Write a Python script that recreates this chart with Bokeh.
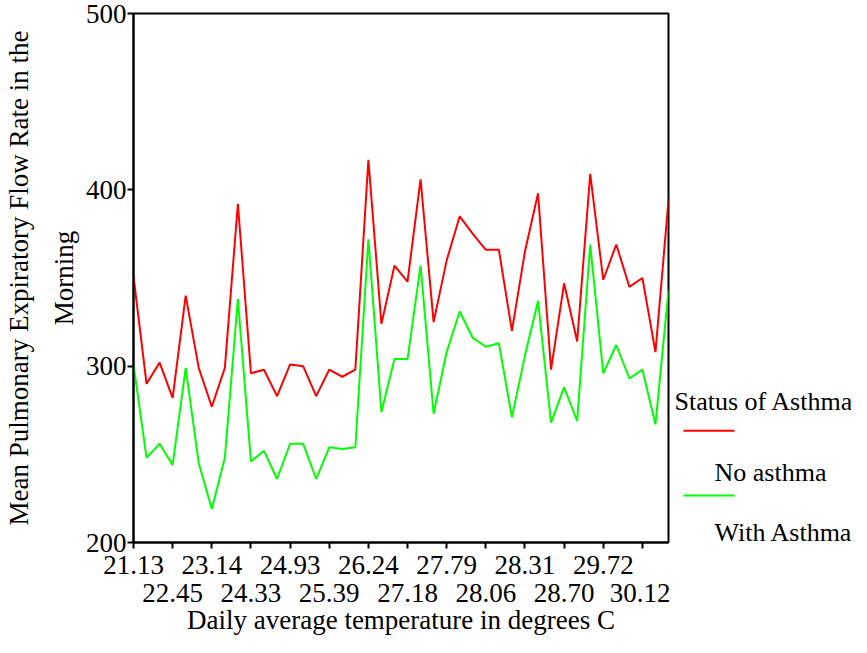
from bokeh.plotting import figure
from bokeh.layouts import row
from bokeh.models import Range1d, FixedTicker, LinearAxis, ColumnDataSource
from bokeh.core.properties import value
from bokeh.embed import file_html
from bokeh.resources import INLINE

# ---------------- data ----------------
temperature_labels = ["21.13", "22.45", "23.14", "24.33", "24.93", "25.39", "26.24",
                      "27.18", "27.79", "28.06", "28.31", "28.70", "29.72", "30.12"]
series_names = ["No asthma", "With Asthma"]
legend_title = "Status of Asthma"
x_title = "Daily average temperature in degrees C"
y_title = "Mean Pulmonary Expiratory Flow Rate in the\nMorning"

no_asthma = [351, 290, 302, 282, 340, 299, 277, 299, 392, 296,
             298, 283, 301, 300, 283, 298, 294, 298, 417, 324,
             357, 348, 406, 325, 360, 385, 375, 366, 366, 320,
             365, 398, 298, 347, 314, 409, 349, 369, 345, 350,
             308, 394]
with_asthma = [301, 248, 256, 244, 299, 245, 219, 248, 338, 246,
               252, 236, 256, 256, 236, 254, 253, 254, 372, 274,
               304, 304, 357, 273, 308, 331, 316, 311, 313, 271,
               306, 337, 268, 288, 269, 369, 296, 312, 293, 298,
               267, 343]
y_ticks = [200, 300, 400, 500]

days = list(range(len(no_asthma)))
step = 3
tick_pos = [i * step for i in range(len(temperature_labels))]

FONT = "Liberation Serif"
FS = "27px"
LEG_FS = "26px"
RED = "#FF0000"
GREEN = "#00FF00"

H = 637
W_MAIN = 670
W_LEG = 181
TOP = 13
BOTTOM = 94

# ---------------- main plot ----------------
p = figure(width=W_MAIN, height=H,
           x_range=Range1d(0, len(days) - 1), y_range=Range1d(200, 500),
           x_axis_location=None, y_axis_location="left",
           output_backend="svg", toolbar_location=None,
           min_border_left=133, min_border_right=2,
           min_border_top=TOP, min_border_bottom=BOTTOM)
p.outline_line_color = "black"
p.outline_line_width = 2
p.grid.visible = False
p.background_fill_color = "white"
p.border_fill_color = "white"

p.line(days, no_asthma, color=RED, line_width=2)
p.line(days, with_asthma, color=GREEN, line_width=2)

# y axis
ya = p.yaxis[0]
ya.ticker = FixedTicker(ticks=y_ticks)
ya.axis_line_color = "black"
ya.axis_line_width = 2
ya.major_tick_line_color = "black"
ya.major_tick_line_width = 2
ya.major_tick_out = 6
ya.major_tick_in = 0
ya.minor_tick_out = 0
ya.minor_tick_in = 0
ya.major_label_standoff = 1
ya.major_label_text_font = FONT
ya.major_label_text_font_size = FS
ya.major_label_text_color = "black"
ya.axis_label = y_title
ya.axis_label_text_font = FONT
ya.axis_label_text_font_size = FS
ya.axis_label_text_font_style = "normal"
ya.axis_label_text_color = "black"
ya.axis_label_standoff = 4
ya.axis_label_text_line_height = 1.5

# x axes: two staggered rows of tick labels
row1 = {t: (lab if i % 2 == 0 else "") for i, (t, lab) in enumerate(zip(tick_pos, temperature_labels))}
odd_ticks = [t for i, t in enumerate(tick_pos) if i % 2 == 1]
row2 = {t: lab for i, (t, lab) in enumerate(zip(tick_pos, temperature_labels)) if i % 2 == 1}

xa1 = LinearAxis(ticker=FixedTicker(ticks=tick_pos), major_label_overrides=row1)
xa1.axis_line_color = "black"
xa1.axis_line_width = 2
xa1.major_tick_line_color = "black"
xa1.major_tick_line_width = 2
xa1.major_tick_out = 6
xa1.major_tick_in = 0
xa1.minor_tick_out = 0
xa1.minor_tick_in = 0
xa1.major_label_standoff = 7
xa1.major_label_text_font = FONT
xa1.major_label_text_font_size = FS
xa1.major_label_text_color = "black"
p.add_layout(xa1, "below")

xa2 = LinearAxis(ticker=FixedTicker(ticks=odd_ticks), major_label_overrides=row2)
xa2.axis_line_color = None
xa2.major_tick_line_color = None
xa2.minor_tick_line_color = None
xa2.major_tick_out = 0
xa2.major_tick_in = 0
xa2.minor_tick_out = 0
xa2.minor_tick_in = 0
xa2.major_label_standoff = 7
xa2.major_label_text_font = FONT
xa2.major_label_text_font_size = FS
xa2.major_label_text_color = "black"
xa2.axis_label = x_title
xa2.axis_label_text_font = FONT
xa2.axis_label_text_font_size = FS
xa2.axis_label_text_font_style = "normal"
xa2.axis_label_text_color = "black"
xa2.axis_label_standoff = 0
p.add_layout(xa2, "below")

# ---------------- legend panel ----------------
# its frame is aligned with the main frame, so its ranges map canvas pixels
lg = figure(width=W_LEG, height=H, x_range=Range1d(0, W_LEG), y_range=Range1d(H - BOTTOM, TOP),
            x_axis_location=None, y_axis_location=None,
            output_backend="svg", toolbar_location=None,
            min_border_left=0, min_border_right=0,
            min_border_top=TOP, min_border_bottom=BOTTOM)
lg.outline_line_color = None
lg.grid.visible = False

title_pos = (4, 402)
swatch_x = (13, 64)
swatch_y = [431, 496]
label_x = 44
label_y = [473, 533]

lg.segment(x0=[swatch_x[0]] * 2, y0=swatch_y, x1=[swatch_x[1]] * 2, y1=swatch_y,
           color=[RED, GREEN], line_width=2)
txt = ColumnDataSource(dict(x=[title_pos[0], label_x, label_x],
                            y=[title_pos[1]] + label_y,
                            t=[legend_title] + series_names))
lg.text(x="x", y="y", text="t", source=txt, text_font=value(FONT),
        text_font_size=value(LEG_FS), text_align="left", text_baseline="alphabetic",
        text_color="black")

layout = row(p, lg)
open("out.html", "w").write(file_html(layout, INLINE))
